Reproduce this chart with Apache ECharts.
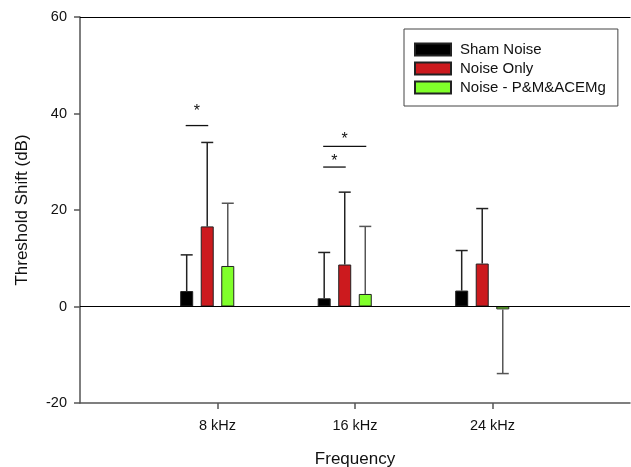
<!DOCTYPE html>
<html>
<head>
<meta charset="utf-8">
<script src="https://cdn.jsdelivr.net/npm/echarts@6/dist/echarts.min.js"></script>
<style>html,body{margin:0;padding:0;background:#fff;}#c{width:631px;height:467px;}</style>
</head>
<body>
<div id="c"></div>
<script>
// ---- data ----
const categories = ['', '8 kHz', '16 kHz', '24 kHz', ''];
const seriesNames = ['Sham Noise', 'Noise Only', 'Noise - P&M&ACEMg'];
const shamNoise = ['-', 3.2, 1.7, 3.3, '-'];
const noiseOnly = ['-', 16.6, 8.7, 8.9, '-'];
const noisePMACE = ['-', 8.4, 2.6, -0.6, '-'];
const shamErr = [0, 7.5, 9.5, 8.3, 0];
const noiseOnlyErr = [0, 17.4, 15.0, 11.4, 0];
const noisePMACEErr = [0, 13.0, 14.0, 13.3, 0];
const yTicks = [-20, 0, 20, 40, 60];
// significance brackets: category index, from bar, to bar, line value, star value
const sigCat = [1, 2, 2];
const sigFrom = [0, 0, 0];
const sigTo = [1, 2, 1];
const sigLineY = [37.5, 33.2, 28.9];
const sigStarY = [41.2, 35.4, 30.8];

// ---- styles ----
const FONT = 'Liberation Sans, Arial, sans-serif';
const colors = ['#000000', '#cc1a1e', '#80ff2a'];
const whiskerColors = ['#222', '#222', '#555'];
const BAR_W = 13;
const BAR_GAP = 0.58;
const STEP = BAR_W * (1 + BAR_GAP);
const N_SLOTS = 4;
function slotOffset(i) { return (i - (N_SLOTS - 1) / 2) * STEP; }

const values = [shamNoise, noiseOnly, noisePMACE];
const errs = [shamErr, noiseOnlyErr, noisePMACEErr];

const errData = [];
values.forEach((arr, s) => {
  arr.forEach((v, c) => {
    if (v !== '-') errData.push([c, s, v, errs[s][c]]);
  });
});
const sigData = sigCat.map((c, i) => [c, sigFrom[i], sigTo[i], sigLineY[i], sigStarY[i]]);

const chart = echarts.init(document.getElementById('c'), null, {renderer: 'canvas'});

const barSeries = seriesNames.map((n, i) => ({
  name: n,
  type: 'bar',
  data: values[i],
  barWidth: BAR_W,
  barGap: (BAR_GAP * 100) + '%',
  itemStyle: {color: colors[i], borderColor: '#222', borderWidth: 1},
  silent: true,
  z: 2
}));
barSeries.push({
  name: 'hidden',
  type: 'bar',
  data: ['-', '-', '-', '-', '-'],
  barWidth: BAR_W,
  barGap: (BAR_GAP * 100) + '%',
  silent: true
});
barSeries[0].markLine = {
  silent: true,
  symbol: 'none',
  label: {show: false},
  lineStyle: {color: '#000', width: 1.2, type: 'solid'},
  data: [{yAxis: 0}],
  z: 5
};

const option = {
  animation: false,
  backgroundColor: '#fff',
  textStyle: {fontFamily: FONT},
  grid: {left: 80, right: 1, top: 17, bottom: 64, containLabel: false, outerBoundsMode: 'none'},
  legend: {
    data: seriesNames,
    orient: 'vertical',
    left: 404,
    top: 29,
    padding: [13, 12, 11, 10],
    itemGap: 4,
    itemWidth: 36,
    itemHeight: 12,
    icon: 'rect',
    borderColor: '#444',
    borderWidth: 1,
    textStyle: {fontFamily: FONT, fontSize: 15, color: '#111', lineHeight: 13, padding: [0, 0, 0, 4]}
  },
  xAxis: [{
    type: 'category',
    data: categories,
    boundaryGap: false,
    position: 'bottom',
    axisLine: {onZero: false, lineStyle: {color: '#555', width: 1.5}},
    axisTick: {show: true, length: 6, interval: (idx) => idx >= 1 && idx <= 3, lineStyle: {color: '#555', width: 1.5}},
    axisLabel: {interval: 0, fontFamily: FONT, fontSize: 14.5, color: '#111', margin: 15},
    splitLine: {show: false},
    name: 'Frequency',
    nameLocation: 'middle',
    nameGap: 48,
    nameTextStyle: {fontFamily: FONT, fontSize: 17, color: '#111'}
  }, {
    type: 'category',
    data: categories,
    boundaryGap: false,
    position: 'top',
    axisLine: {onZero: false, lineStyle: {color: '#000', width: 1.2}},
    axisTick: {show: false},
    axisLabel: {show: false},
    splitLine: {show: false}
  }],
  yAxis: {
    type: 'value',
    min: yTicks[0],
    max: yTicks[yTicks.length - 1],
    interval: 20,
    axisLine: {show: true, lineStyle: {color: '#555', width: 1.5}},
    axisTick: {show: true, length: 6, lineStyle: {color: '#555', width: 1.5}},
    axisLabel: {fontFamily: FONT, fontSize: 14.5, color: '#111', margin: 13},
    splitLine: {show: false},
    name: 'Threshold Shift (dB)',
    nameLocation: 'middle',
    nameGap: 49,
    nameTextStyle: {fontFamily: FONT, fontSize: 17, color: '#111'}
  },
  series: barSeries.concat([{
    type: 'custom',
    name: 'errors',
    silent: true,
    data: errData,
    z: 3,
    renderItem: function (params, api) {
      const c = api.value(0), s = api.value(1), v = api.value(2), e = api.value(3);
      const dir = v >= 0 ? 1 : -1;
      const p0 = api.coord([c, v]);
      const p1 = api.coord([c, v + dir * e]);
      const x = p0[0] + slotOffset(s);
      const col = whiskerColors[s];
      return {
        type: 'group',
        children: [
          {type: 'line', shape: {x1: x, y1: p0[1], x2: x, y2: p1[1]}, style: {stroke: col, lineWidth: 1.5}},
          {type: 'line', shape: {x1: x - 6, y1: p1[1], x2: x + 6, y2: p1[1]}, style: {stroke: col, lineWidth: 1.5}}
        ]
      };
    }
  }, {
    type: 'custom',
    name: 'significance',
    silent: true,
    data: sigData,
    z: 4,
    renderItem: function (params, api) {
      const c = api.value(0), f = api.value(1), t = api.value(2), ly = api.value(3), sy = api.value(4);
      const pl = api.coord([c, ly]);
      const ps = api.coord([c, sy]);
      const x1 = pl[0] + slotOffset(f) - 1;
      const x2 = pl[0] + slotOffset(t) + 1;
      return {
        type: 'group',
        children: [
          {type: 'line', shape: {x1: x1, y1: pl[1], x2: x2, y2: pl[1]}, style: {stroke: '#111', lineWidth: 1.3}},
          {type: 'text', style: {text: '*', x: (x1 + x2) / 2, y: ps[1] + 4, align: 'center', verticalAlign: 'middle', font: '16px ' + FONT, fill: '#111'}}
        ]
      };
    }
  }])
};
chart.setOption(option);
</script>
</body>
</html>
